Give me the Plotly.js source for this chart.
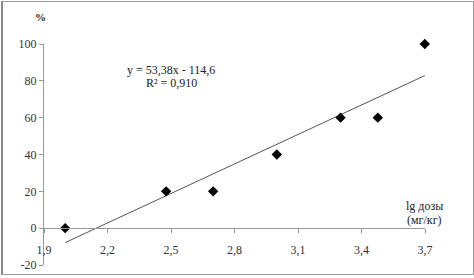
<!DOCTYPE html>
<html>
<head>
<meta charset="utf-8">
<script src="https://cdn.plot.ly/plotly-3.0.1.min.js"></script>
<style>
html,body{margin:0;padding:0;background:#fff;}
#wrap{position:relative;width:474px;height:278px;}
#chart{width:474px;height:278px;}
#frame{position:absolute;left:1px;top:1px;width:470px;height:272px;border:1px solid #9a9a9a;border-left:2px solid #8a8a8a;pointer-events:none;}
</style>
</head>
<body>
<div id="wrap"><div id="chart"></div><div id="frame"></div></div>
<script>
// data
const lgDose = [2.0, 2.477, 2.699, 3.0, 3.301, 3.477, 3.699];
const effectPct = [0, 20, 20, 40, 60, 60, 100];
const fitSlope = 53.38;
const fitIntercept = -114.6;
const xTickVals = [1.9, 2.2, 2.5, 2.8, 3.1, 3.4, 3.7];
const xTickText = ['1,9', '2,2', '2,5', '2,8', '3,1', '3,4', '3,7'];
const yTickVals = [-20, 0, 20, 40, 60, 80, 100];
const yTickText = ['-20', '0', '20', '40', '60', '80', '100'];
const eqText = 'y = 53,38x - 114,6';
const r2Text = 'R² = 0,910';

const xMin = Math.min(...lgDose), xMax = Math.max(...lgDose);
const fitX = [xMin, xMax];
const fitY = fitX.map(v => fitSlope * v + fitIntercept);

const font = "'Liberation Serif', 'Times New Roman', serif";

const traces = [
  {x: fitX, y: fitY, mode: 'lines', type: 'scatter',
   line: {color: '#555', width: 1}, hoverinfo: 'skip'},
  {x: lgDose, y: effectPct, mode: 'markers', type: 'scatter', cliponaxis: false,
   marker: {symbol: 'diamond', size: 8, color: '#000'}}
];

const layout = {
  width: 474, height: 278,
  margin: {l: 44, r: 48.5, t: 44, b: 13, pad: 0},
  paper_bgcolor: '#fff', plot_bgcolor: '#fff',
  showlegend: false,
  font: {family: font, size: 12, color: '#333'},
  xaxis: {
    range: [1.9, 3.7], tickvals: xTickVals, ticktext: xTickText,
    anchor: 'free', position: 1/6,
    showline: true, linecolor: '#999', linewidth: 1,
    ticks: 'outside', ticklen: 4, tickcolor: '#999',
    ticklabelstandoff: 6,
    showgrid: false, zeroline: false,
    tickfont: {family: font, size: 12, color: '#333'}
  },
  yaxis: {
    range: [-20, 100], tickvals: yTickVals, ticktext: yTickText,
    showline: true, linecolor: '#999', linewidth: 1,
    ticks: 'outside', ticklen: 4, tickcolor: '#999',
    showgrid: false, zeroline: false,
    tickfont: {family: font, size: 12, color: '#333'}
  },
  annotations: [
    {xref: 'x', yref: 'paper', x: 2.5, y: 1, yshift: -26, text: eqText, showarrow: false,
     font: {family: font, size: 12, color: '#222'}, xanchor: 'center', yanchor: 'middle'},
    {xref: 'x', yref: 'paper', x: 2.5, y: 1, yshift: -39, text: r2Text, showarrow: false,
     font: {family: font, size: 12, color: '#222'}, xanchor: 'center', yanchor: 'middle'},
    {xref: 'paper', yref: 'paper', x: 0, y: 1, xshift: -4, yshift: 27, text: '<b>%</b>', showarrow: false,
     font: {family: font, size: 11, color: '#222'}, xanchor: 'center', yanchor: 'middle'},
    {xref: 'paper', yref: 'paper', x: 1, y: 1/6, xshift: 20, yshift: 22, text: 'lg дозы', showarrow: false,
     font: {family: font, size: 12, color: '#222'}, xanchor: 'right', yanchor: 'middle'},
    {xref: 'paper', yref: 'paper', x: 1, y: 1/6, xshift: 19, yshift: 8, text: '(мг/кг)', showarrow: false,
     font: {family: font, size: 12, color: '#222'}, xanchor: 'right', yanchor: 'middle'}
  ]
};

Plotly.newPlot('chart', traces, layout, {displayModeBar: false, staticPlot: true});
</script>
</body>
</html>
